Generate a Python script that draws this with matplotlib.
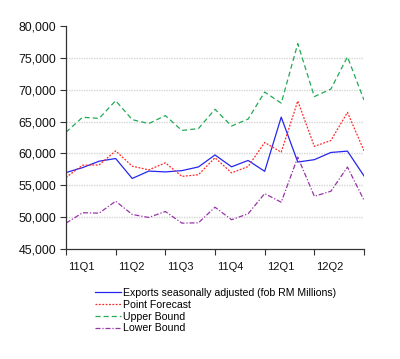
import matplotlib
matplotlib.use("Agg")
import matplotlib.pyplot as plt
import matplotlib.transforms as mtransforms
from matplotlib.ticker import FuncFormatter

plt.rcParams['font.family'] = ['Liberation Sans', 'DejaVu Sans']

months = list(range(19))
quarter_labels = ["11Q1", "11Q2", "11Q3", "11Q4", "12Q1", "12Q2"]

exports = [57000, 57770, 58780, 59200, 56070, 57230, 57100, 57300, 57880, 59760,
           57900, 58900, 57190, 65700, 58650, 59020, 60150, 60360, 56470]
forecast = [56230, 58150, 58200, 60400, 58000, 57420, 58520, 56400, 56660, 59330,
            56950, 57940, 61720, 60200, 68220, 61110, 62030, 66450, 60420]
upper = [63330, 65670, 65500, 68280, 65300, 64690, 65940, 63600, 63900, 66930,
         64300, 65390, 69630, 67890, 77230, 68920, 70100, 75160, 68390]
lower = [49060, 50690, 50630, 52500, 50420, 49950, 50890, 49060, 49110, 51560,
         49590, 50530, 53700, 52340, 59420, 53280, 54060, 57860, 52660]

fig = plt.figure(figsize=(4.0, 3.59), dpi=100)
ax = fig.add_axes([66/400, 1-249/359, (364-66)/400, (249-26)/359])

lw = 0.9
ax.plot(months, exports, color='#2626f0', lw=lw, ls='-',
        label='Exports seasonally adjusted (fob RM Millions)')
ax.plot(months, forecast, color='#ff2a2a', lw=lw, ls=(0, (1.5, 1.2)),
        label='Point Forecast')
ax.plot(months, upper, color='#22aa55', lw=lw, ls=(0, (4, 2.5)),
        label='Upper Bound')
ax.plot(months, lower, color='#9933aa', lw=lw, ls=(0, (4, 1.5, 1, 1.5)),
        label='Lower Bound')

ax.set_xlim(0, 18)
ax.set_ylim(45000, 80000)
ax.set_yticks(range(45000, 80001, 5000))
ax.yaxis.set_major_formatter(FuncFormatter(lambda v, p: f"{int(v):,}"))
for yv in range(50000, 80000, 5000):
    ax.axhline(yv, color='#d6d6d6', lw=1.0, ls=(0, (1, 0.8)), zorder=0)

ax.set_xticks(range(0, 19, 3))
ax.set_xticklabels(quarter_labels + [""], ha='left')

ax.spines['top'].set_visible(False)
ax.spines['right'].set_visible(False)
for s in ['left', 'bottom']:
    ax.spines[s].set_color('#333333')
    ax.spines[s].set_linewidth(0.9)
ax.tick_params(axis='both', direction='out', length=4, width=0.8, color='#333333',
               labelcolor='#111111')
ax.tick_params(axis='y', pad=3, labelsize=8.9)
ax.tick_params(axis='x', pad=5, labelsize=8.0)

offset = mtransforms.ScaledTranslation(2/100, 0, fig.dpi_scale_trans)
for lab in ax.get_xticklabels():
    lab.set_transform(lab.get_transform() + offset)

fig.legend(loc='upper left', bbox_to_anchor=(95/400, 1-288/359), frameon=False,
           fontsize=7.6, handlelength=2.44, handletextpad=0.25, labelspacing=0.17,
           borderaxespad=0, borderpad=0)

fig.savefig('out.png', dpi=100)
